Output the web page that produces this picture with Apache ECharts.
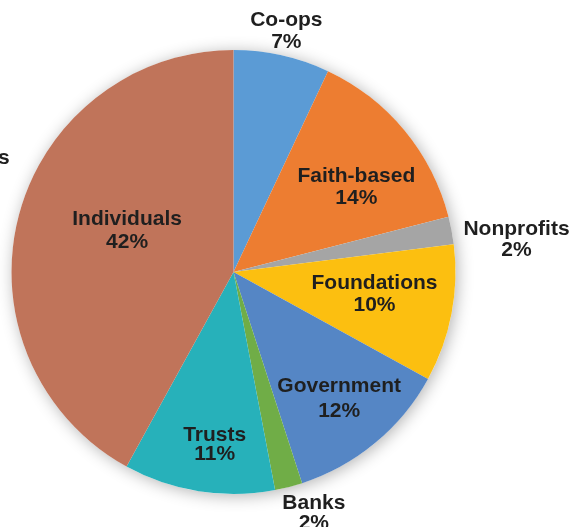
<!DOCTYPE html>
<html>
<head>
<meta charset="utf-8">
<script src="https://cdn.jsdelivr.net/npm/echarts@6/dist/echarts.min.js"></script>
<style>
html,body{margin:0;padding:0;background:#fff;}
#main{width:572px;height:527px;}
</style>
</head>
<body>
<div id="main"></div>
<script>
var categories = ['Co-ops', 'Faith-based', 'Nonprofits', 'Foundations', 'Government', 'Banks', 'Trusts', 'Individuals'];
var shares = [7, 14, 2, 10, 12, 2, 11, 42];
var colors = ['#5B9BD5', '#ED7D31', '#A5A5A5', '#FCBF10', '#5586C5', '#70AD47', '#27B1BA', '#C0745A'];
// label shifts from the default inside position (pixels) and line heights
var labelShift = [[28, -130], [35, -12], [171, -11], [29, 1], [33, 39], [52, 131], [-1, 60], [4, -13]];
var labelLineHeight = [22, 22, 21, 22, 25, 20, 19, 23];

var chart = echarts.init(document.getElementById('main'), null, {renderer: 'canvas'});
var data = categories.map(function (c, i) {
  return {name: c, value: shares[i], itemStyle: {color: colors[i]}, label: {lineHeight: labelLineHeight[i]}};
});
var center = [233.5, 272];
var radius = 222;
chart.setOption({
  animation: false,
  backgroundColor: '#ffffff',
  graphic: [{
    type: 'text', left: -2, top: 148,
    style: {text: 's', font: 'bold 21px "Liberation Sans", Arial, sans-serif', fill: '#1f1f1f'}
  }],
  series: [{
    type: 'pie', silent: true, z: 1,
    center: center, radius: radius,
    label: {show: false}, labelLine: {show: false},
    itemStyle: {color: '#ffffff', shadowBlur: 16, shadowColor: 'rgba(0,0,0,0.3)', shadowOffsetX: 2, shadowOffsetY: 2},
    data: [{name: 'bg', value: 1}]
  }, {
    type: 'pie', z: 2,
    center: center, radius: radius,
    startAngle: 90, clockwise: true,
    avoidLabelOverlap: false,
    itemStyle: {borderWidth: 0},
    label: {
      show: true, position: 'inside',
      formatter: function (p) { return p.name + '\n' + p.value + '%'; },
      fontFamily: '"Liberation Sans", Arial, sans-serif',
      fontWeight: 'bold', fontSize: 21, lineHeight: 22,
      color: '#1f1f1f', align: 'center'
    },
    labelLine: {show: false},
    labelLayout: function (p) {
      var s = labelShift[p.dataIndex];
      return {dx: s[0], dy: s[1]};
    },
    data: data
  }]
});
</script>
</body>
</html>
